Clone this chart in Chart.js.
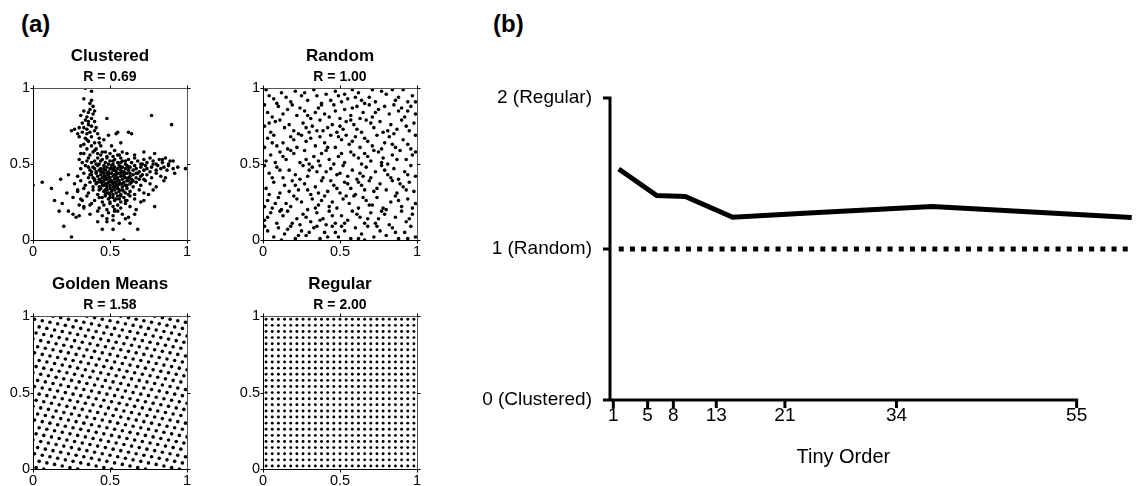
<!DOCTYPE html>
<html>
<head>
<meta charset="utf-8">
<script src="https://cdn.jsdelivr.net/npm/chart.js@4.4.1/dist/chart.umd.min.js"></script>
<style>
  html, body { margin: 0; padding: 0; background: #fff; }
  body { width: 1138px; height: 486px; position: relative; overflow: hidden;
         font-family: "Liberation Sans", Arial, Helvetica, sans-serif; }
  .box { position: absolute; }
  .panel { position: absolute; font-weight: bold; font-size: 24px; line-height: 24px; color: #000; }
</style>
</head>
<body>
<div class="panel" style="left:21px;top:12px">(a)</div>
<div class="panel" style="left:493px;top:12px">(b)</div>
<div class="box" style="left:0;top:40px"><canvas id="clustered" width="200" height="224"></canvas></div>
<div class="box" style="left:230px;top:40px"><canvas id="random" width="200" height="224"></canvas></div>
<div class="box" style="left:0;top:268px"><canvas id="golden" width="200" height="225"></canvas></div>
<div class="box" style="left:230px;top:268px"><canvas id="regular" width="200" height="225"></canvas></div>
<div class="box" style="left:440px;top:0"><canvas id="tiny" width="698" height="486"></canvas></div>
<script>
Chart.defaults.font.family = '"Liberation Sans", Arial, Helvetica, sans-serif';
Chart.defaults.color = '#000';

// ---- panel (a): point sets, flat x,y pairs in hundredths of the unit square
const clusteredPts = [
  // upper arm
  34,100, 38,98, 33,93, 38,92, 33,85, 37,86, 36,84, 39,83, 31,82, 35,81, 38,80, 34,79, 36,78, 40,78,
  32,77, 36,76, 30,74, 33,74, 35,73, 38,75, 41,74, 27,73, 29,70, 32,71, 35,70, 37,71, 40,72, 42,70,
  30,68, 34,67, 38,68, 43,67, 36,65, 40,64, 33,63, 38,62, 41,60, 44,62, 35,60, 39,58, 31,57, 42,57,
  37,56, 45,58, 48,80, 25,72, 49,69, 54,70, 55,71, 62,71, 64,70, 57,64, 46,66, 51,62, 39,88, 37,90,
  40,85, 35,66, 31,62, 43,64,
  // outliers
  0,36, 6,38, 12,34, 14,26, 19,24, 18,40, 23,43, 17,19, 23,19, 26,17, 20,9, 25,2, 30,16, 45,7,
  52,7, 59,0, 68,7, 77,82, 90,76, 99,47, 92,44, 85,39, 78,33, 79,22, 26,28, 28,15, 33,21, 29,33,
  22,31, 66,17, 72,26, 75,30, 88,50, 84,53, 91,52, 63,11, 48,12, 32,26, 30,23, 37,23, 48,14, 53,19,
  // main body and right arm
  33,57, 40,59, 44,56, 47,58, 50,57, 53,59, 56,56, 58,58, 61,57, 66,56, 72,58, 79,57, 48,55, 52,55,
  30,53, 32,51, 36,54, 40,52, 43,50, 45,53, 47,51, 48,54, 50,52, 52,50, 53,53, 55,51, 57,54, 58,52,
  60,50, 62,53, 64,51, 66,54, 68,52, 70,50, 72,53, 74,51, 76,54, 78,52, 80,50, 82,53, 84,51, 86,54,
  89,52, 42,54, 38,51, 35,52,
  31,47, 34,49, 37,46, 39,48, 41,45, 42,49, 44,47, 45,45, 46,49, 47,46, 48,48, 49,45, 50,47, 51,49,
  52,46, 53,48, 54,45, 55,47, 56,49, 57,46, 58,48, 59,45, 60,47, 61,49, 62,46, 63,48, 65,46, 66,49,
  67,47, 69,45, 70,48, 71,50, 72,46, 73,49, 74,47, 76,45, 77,48, 78,50, 80,46, 81,49, 83,47, 85,48,
  87,46, 88,49, 91,47, 94,48,
  29,42, 33,44, 36,41, 38,43, 40,40, 41,44, 42,42, 43,40, 44,43, 45,41, 46,44, 47,42, 48,40, 49,43,
  50,41, 51,44, 52,42, 53,40, 54,43, 55,41, 56,44, 57,42, 58,40, 59,43, 60,41, 61,44, 63,42, 64,40,
  65,43, 67,41, 68,44, 70,42, 72,40, 74,43, 77,41, 80,44, 83,42, 86,41,
  27,37, 31,39, 34,36, 37,38, 39,35, 40,39, 41,37, 43,35, 44,38, 45,36, 46,39, 47,37, 48,35, 49,38,
  50,36, 51,39, 52,37, 53,35, 54,38, 55,36, 56,39, 57,37, 58,35, 59,38, 60,36, 62,39, 63,37, 65,35,
  67,38, 70,36, 73,39, 76,37, 80,35,
  29,32, 33,34, 36,31, 39,33, 42,30, 44,34, 46,32, 47,30, 48,33, 49,31, 50,34, 51,32, 52,30, 53,33,
  54,31, 55,34, 56,32, 57,30, 58,33, 60,31, 61,34, 63,32, 66,30, 69,33, 72,31,
  31,27, 35,29, 40,26, 43,28, 45,25, 47,29, 49,27, 50,25, 52,28, 53,26, 55,29, 56,27, 57,25, 59,28,
  61,26, 63,29, 66,27, 70,25,
  33,22, 38,24, 43,21, 46,23, 48,20, 50,24, 52,22, 53,20, 55,23, 57,21, 60,24, 63,22, 67,20,
  37,17, 42,19, 45,16, 49,18, 52,16, 55,19, 58,17, 62,15, 42,12, 52,13, 56,11, 60,14,
  // dense core
  44,45, 46,42, 48,37, 50,44, 51,38, 53,46, 54,41, 55,39, 57,44, 58,37, 59,42, 61,39, 49,41, 52,35,
  56,33, 47,40, 45,38, 43,46, 53,43, 57,48, 60,44, 62,41, 50,39, 48,44, 54,36, 51,47,
  36,48, 38,45, 40,47, 42,38, 39,41, 37,43, 41,50, 44,52, 46,36, 43,33, 45,28, 48,31, 50,28, 51,33,
  53,38, 55,44, 56,37, 58,45, 59,32, 61,36, 63,44, 64,38, 62,48, 60,52, 57,51, 55,56, 52,52, 49,50,
  46,47, 44,39, 47,33, 50,30, 54,27, 57,29, 60,26, 62,30, 65,39, 67,44, 69,40, 71,43
];

const randomPts = [
  7,93, 2,99, 18,91, 12,97, 25,95, 33,99, 29,92, 41,96, 38,90, 47,98, 55,93, 51,91, 62,97, 58,99, 69,94, 73,91,
  66,90, 80,96, 86,92, 91,99, 97,95, 4,95, 15,94, 21,98, 44,92, 77,98, 94,91, 60,94, 35,95, 84,99, 9,90, 49,95,
  27,97, 53,96, 71,99, 88,94, 99,91, 64,92,
  3,84, 10,88, 6,81, 16,86, 22,82, 19,89, 27,85, 31,80, 36,87, 40,83, 46,89, 43,81, 53,86, 57,82, 61,88, 65,84,
  71,81, 69,89, 75,86, 82,83, 79,88, 88,85, 92,81, 96,88, 99,83, 13,83, 34,84, 50,80, 85,89, 24,87, 63,80,
  1,89, 29,82, 47,85, 58,87, 73,84, 94,85, 38,89, 90,87,
  1,75, 8,78, 5,71, 14,74, 11,79, 20,72, 26,77, 23,70, 32,75, 37,79, 39,72, 45,76, 48,71, 54,78, 52,73, 59,76,
  64,71, 67,79, 72,74, 76,78, 78,71, 83,76, 87,73, 90,79, 95,72, 98,77, 17,76, 42,74, 61,73, 30,71, 85,70,
  4,77, 28,74, 35,72, 50,75, 57,79, 81,72, 93,75, 70,77,
  3,67, 9,62, 7,69, 13,64, 18,68, 22,61, 28,65, 25,69, 34,62, 31,67, 40,64, 44,69, 47,61, 51,66, 56,63, 60,68,
  63,61, 68,65, 74,69, 71,62, 79,64, 82,68, 86,61, 91,66, 94,63, 99,69, 16,60, 37,68, 54,69, 77,60, 1,61,
  6,64, 20,66, 42,61, 49,68, 58,65, 66,67, 84,63, 96,60,
  5,56, 2,52, 11,58, 15,53, 20,57, 24,51, 27,59, 33,55, 30,50, 38,57, 43,53, 41,59, 49,55, 53,51, 57,58, 62,54,
  66,57, 64,50, 70,52, 75,58, 78,54, 84,56, 81,50, 89,59, 93,53, 97,56, 8,51, 46,50, 72,59, 36,52, 59,56,
  13,55, 18,59, 28,53, 51,57, 68,55, 77,51, 87,53, 99,58,
  4,44, 9,48, 13,41, 17,46, 21,43, 26,49, 29,42, 35,45, 32,48, 39,41, 44,47, 48,43, 52,49, 55,42, 58,46, 63,44,
  67,48, 70,41, 73,45, 77,49, 81,43, 85,47, 88,40, 92,45, 96,49, 99,42, 1,49, 24,40, 61,40, 41,45, 83,41,
  6,41, 11,46, 30,46, 37,49, 50,44, 65,42, 79,46, 94,43,
  2,34, 7,38, 11,31, 14,36, 19,39, 23,33, 27,37, 31,30, 34,35, 38,39, 42,32, 46,36, 50,31, 53,38, 57,34, 60,30,
  64,36, 69,39, 72,32, 76,37, 80,33, 84,39, 87,31, 91,35, 95,38, 98,32, 17,32, 44,39, 66,33, 89,37,
  4,30, 21,36, 29,33, 36,31, 48,34, 55,37, 74,34, 93,33, 62,38,
  3,26, 6,21, 10,28, 15,24, 20,29, 18,22, 25,25, 29,20, 32,27, 36,23, 40,29, 45,25, 48,21, 52,27, 56,24, 59,29,
  62,21, 67,26, 71,23, 74,28, 78,21, 83,25, 86,29, 90,22, 94,27, 99,24, 12,20, 38,26, 65,28, 80,20,
  1,22, 8,24, 22,27, 34,21, 43,22, 54,29, 69,23, 88,26, 97,21,
  1,13, 5,18, 9,11, 13,16, 16,19, 22,14, 26,17, 24,10, 31,12, 35,18, 39,14, 43,19, 47,11, 51,16, 55,13, 58,19,
  63,15, 66,11, 70,18, 75,14, 79,17, 82,10, 86,15, 90,19, 93,12, 97,17, 19,11, 41,10, 61,17, 73,11,
  3,15, 11,19, 28,15, 37,13, 45,16, 53,11, 68,14, 77,19, 95,14,
  3,6, 7,2, 10,8, 14,4, 18,9, 21,1, 25,6, 28,3, 33,8, 37,1, 40,5, 45,9, 49,2, 53,6, 57,1, 60,8,
  64,4, 68,9, 72,2, 76,6, 80,3, 84,8, 88,1, 92,5, 96,9, 99,2, 12,0, 30,5, 47,5, 66,0,
  1,9, 16,7, 23,3, 35,9, 42,2, 51,9, 62,1, 74,9, 86,5, 94,1
];

const goldenPts = [
  2,1, 7,0,
  4,5, 9,4, 14,3, 19,2, 24,1, 29,0,
  1,10, 6,9, 11,8, 16,7, 21,6, 26,5, 31,4, 36,3, 41,2, 46,1, 51,0,
  3,14, 8,13, 13,12, 18,11, 23,10, 28,9, 33,8, 38,7, 43,6, 48,5, 53,4, 58,3, 63,2, 68,1, 73,0,
  0,19, 5,18, 10,17, 15,16, 20,15, 25,14, 30,13, 35,12, 40,11, 45,10, 50,9, 55,8, 60,7, 65,6, 70,5, 75,4, 80,3, 85,2, 90,1, 95,0,
  2,23, 7,22, 12,21, 17,20, 22,19, 27,18, 32,17, 37,16, 42,15, 47,14, 52,13, 57,12, 62,11, 67,10, 72,9, 77,8, 82,7, 87,6, 92,5, 97,4,
  4,27, 9,26, 14,25, 19,24, 24,23, 29,22, 34,21, 39,20, 44,19, 49,18, 54,17, 59,16, 64,15, 69,14, 74,13, 79,12, 84,11, 89,10, 94,9, 99,8,
  1,32, 6,31, 11,30, 16,29, 21,28, 26,27, 31,26, 36,25, 41,24, 46,23, 51,22, 56,21, 61,20, 66,19, 71,18, 76,17, 81,16, 86,15, 91,14, 96,13,
  3,36, 8,35, 13,34, 18,33, 23,32, 28,31, 33,30, 38,29, 43,28, 48,27, 53,26, 58,25, 63,24, 68,23, 73,22, 78,21, 83,20, 88,19, 93,18, 98,17,
  0,41, 5,40, 10,39, 15,38, 20,37, 25,36, 30,35, 35,34, 40,33, 45,32, 50,31, 55,30, 60,29, 65,28, 70,27, 75,26, 80,25, 85,24, 90,23, 95,22, 100,21,
  2,45, 7,44, 12,43, 17,42, 22,41, 27,40, 32,39, 37,38, 42,37, 47,36, 52,35, 57,34, 62,33, 67,32, 72,31, 77,30, 82,29, 87,28, 92,27, 97,26,
  4,49, 9,48, 14,47, 19,46, 24,45, 29,44, 34,43, 39,42, 44,41, 49,40, 54,39, 59,38, 64,37, 69,36, 74,35, 79,34, 84,33, 89,32, 94,31, 99,30,
  1,54, 6,53, 11,52, 16,51, 21,50, 26,49, 31,48, 36,47, 41,46, 46,45, 51,44, 56,43, 61,42, 66,41, 71,40, 76,39, 81,38, 86,37, 91,36, 96,35,
  3,58, 8,57, 13,56, 18,55, 23,54, 28,53, 33,52, 38,51, 43,50, 48,49, 53,48, 58,47, 63,46, 68,45, 73,44, 78,43, 83,42, 88,41, 93,40, 98,39,
  0,63, 5,62, 10,61, 15,60, 20,59, 25,58, 30,57, 35,56, 40,55, 45,54, 50,53, 55,52, 60,51, 65,50, 70,49, 75,48, 80,47, 85,46, 90,45, 95,44, 100,43,
  2,67, 7,66, 12,65, 17,64, 22,63, 27,62, 32,61, 37,60, 42,59, 47,58, 52,57, 57,56, 62,55, 67,54, 72,53, 77,52, 82,51, 87,50, 92,49, 97,48,
  4,71, 9,70, 14,69, 19,68, 24,67, 29,66, 34,65, 39,64, 44,63, 49,62, 54,61, 59,60, 64,59, 69,58, 74,57, 79,56, 84,55, 89,54, 94,53, 99,52,
  1,76, 6,75, 11,74, 16,73, 21,72, 26,71, 31,70, 36,69, 41,68, 46,67, 51,66, 56,65, 61,64, 66,63, 71,62, 76,61, 81,60, 86,59, 91,58, 96,57,
  3,80, 8,79, 13,78, 18,77, 23,76, 28,75, 33,74, 38,73, 43,72, 48,71, 53,70, 58,69, 63,68, 68,67, 73,66, 78,65, 83,64, 88,63, 93,62, 98,61,
  0,85, 5,84, 10,83, 15,82, 20,81, 25,80, 30,79, 35,78, 40,77, 45,76, 50,75, 55,74, 60,73, 65,72, 70,71, 75,70, 80,69, 85,68, 90,67, 95,66, 100,65,
  2,89, 7,88, 12,87, 17,86, 22,85, 27,84, 32,83, 37,82, 42,81, 47,80, 52,79, 57,78, 62,77, 67,76, 72,75, 77,74, 82,73, 87,72, 92,71, 97,70,
  4,93, 9,92, 14,91, 19,90, 24,89, 29,88, 34,87, 39,86, 44,85, 49,84, 54,83, 59,82, 64,81, 69,80, 74,79, 79,78, 84,77, 89,76, 94,75, 99,74,
  1,98, 6,97, 11,96, 16,95, 21,94, 26,93, 31,92, 36,91, 41,90, 46,89, 51,88, 56,87, 61,86, 66,85, 71,84, 76,83, 81,82, 86,81, 91,80, 96,79,
  13,100, 18,99, 23,98, 28,97, 33,96, 38,95, 43,94, 48,93, 53,92, 58,91, 63,90, 68,89, 73,88, 78,87, 83,86, 88,85, 93,84, 98,83,
  35,100, 40,99, 45,98, 50,97, 55,96, 60,95, 65,94, 70,93, 75,92, 80,91, 85,90, 90,89, 95,88, 100,87,
  57,100, 62,99, 67,98, 72,97, 77,96, 82,95, 87,94, 92,93, 97,92,
  79,100, 84,99, 89,98, 94,97, 99,96
];

// regular lattice: row and column positions
const regularGrid = [0.02, 0.06, 0.10, 0.14, 0.18, 0.22, 0.26, 0.30, 0.34, 0.38, 0.42, 0.46, 0.50,
                     0.54, 0.58, 0.62, 0.66, 0.70, 0.74, 0.78, 0.82, 0.86, 0.90, 0.94, 0.98];
const squareTicks = [0, 0.5, 1];
const squareTickLabels = ['0', '0.5', '1'];

// ---- panel (b)
const tinyOrder = [1, 5, 8, 13, 21, 34, 55];
const rValues = [1.53, 1.354, 1.348, 1.21, 1.238, 1.281, 1.208];
const randomLevelX = [1, 55];
const randomLevel = [1, 1];
const rTicks = [0, 1, 2];
const rTickLabels = ['0 (Clustered)', '1 (Random)', '2 (Regular)'];

function toPoints(flat) {
  const out = [];
  for (let i = 0; i < flat.length; i += 2) out.push({ x: flat[i] / 100, y: flat[i + 1] / 100 });
  return out;
}

const squareFrame = {
  id: 'squareFrame',
  afterDraw(chart) {
    const { ctx, chartArea: a, scales: { x, y } } = chart;
    const L = Math.round(a.left) + 0.5, R = Math.round(a.right) + 0.5;
    const T = Math.round(a.top) + 0.5, B = Math.round(a.bottom) + 0.5;
    ctx.save();
    ctx.lineWidth = 1;
    ctx.strokeStyle = '#555';
    ctx.beginPath();
    ctx.moveTo(L, T); ctx.lineTo(R, T); ctx.lineTo(R, B);
    ctx.stroke();
    ctx.strokeStyle = '#000';
    ctx.beginPath();
    ctx.moveTo(L, T); ctx.lineTo(L, B); ctx.lineTo(R, B);
    squareTicks.forEach(v => {
      const px = Math.round(x.getPixelForValue(v)) + 0.5;
      const py = Math.round(y.getPixelForValue(v)) + 0.5;
      ctx.moveTo(px, B); ctx.lineTo(px, B + 3);
      ctx.moveTo(px, T); ctx.lineTo(px, T - 3);
      ctx.moveTo(L, py); ctx.lineTo(L - 3, py);
      ctx.moveTo(R, py); ctx.lineTo(R + 3, py);
    });
    ctx.stroke();
    ctx.restore();
  }
};

function squarePlot(id, title, rLabel, points, radius) {
  const axis = (fit) => ({
    type: 'linear', min: 0, max: 1,
    afterBuildTicks: s => { s.ticks = squareTicks.map(v => ({ value: v })); },
    ticks: { font: { size: 14.5 }, padding: 3, autoSkip: false, maxRotation: 0, color: '#000',
             callback: (v, i) => squareTickLabels[i] },
    grid: { display: false, drawTicks: false },
    border: { display: false },
    afterFit: fit
  });
  return new Chart(document.getElementById(id), {
    type: 'scatter',
    data: { datasets: [{ data: points, pointRadius: radius, pointBackgroundColor: '#000', pointBorderWidth: 0 }] },
    options: {
      responsive: false, animation: false, events: [],
      layout: { padding: { left: 0, right: 13, top: 0, bottom: 0 } },
      plugins: {
        legend: { display: false },
        tooltip: { enabled: false },
        title: { display: true, text: title, fullSize: false, color: '#000',
                 font: { size: 17, weight: 'bold' }, padding: { top: 6, bottom: 0 } },
        subtitle: { display: true, text: rLabel, fullSize: false, color: '#000',
                    font: { size: 14, weight: 'bold' }, padding: { top: 2, bottom: 3 } }
      },
      scales: {
        x: axis(s => { s.height = 24; }),
        y: axis(s => { s.width = 33; })
      }
    },
    plugins: [squareFrame]
  });
}

squarePlot('clustered', 'Clustered', 'R = 0.69', toPoints(clusteredPts), 1.8);
squarePlot('random', 'Random', 'R = 1.00', toPoints(randomPts), 1.8);
squarePlot('golden', 'Golden Means', 'R = 1.58', toPoints(goldenPts), 1.8);
squarePlot('regular', 'Regular', 'R = 2.00',
  regularGrid.flatMap(gy => regularGrid.map(gx => ({ x: gx, y: gy }))), 1.45);

const tinyAxes = {
  id: 'tinyAxes',
  afterDraw(chart) {
    const { ctx, chartArea: a, scales: { x, y } } = chart;
    const xEnd = x.getPixelForValue(tinyOrder[tinyOrder.length - 1]);
    ctx.save();
    ctx.strokeStyle = '#000';
    ctx.lineWidth = 3;
    ctx.lineCap = 'butt';
    ctx.beginPath();
    ctx.moveTo(a.left, y.getPixelForValue(rTicks[rTicks.length - 1]) - 1.5);
    ctx.lineTo(a.left, a.bottom + 1.5);
    ctx.moveTo(a.left - 7, a.bottom);
    ctx.lineTo(xEnd + 1.5, a.bottom);
    rTicks.forEach(v => {
      const py = y.getPixelForValue(v);
      ctx.moveTo(a.left - 7, py); ctx.lineTo(a.left, py);
    });
    tinyOrder.forEach(v => {
      const px = x.getPixelForValue(v);
      ctx.moveTo(px, a.bottom); ctx.lineTo(px, a.bottom + 8);
    });
    ctx.stroke();
    ctx.fillStyle = '#000';
    ctx.font = '20px "Liberation Sans", Arial, sans-serif';
    ctx.textAlign = 'center';
    ctx.textBaseline = 'alphabetic';
    ctx.fillText('Tiny Order', (a.left + xEnd) / 2, a.bottom + 63);
    ctx.restore();
  }
};

new Chart(document.getElementById('tiny'), {
  type: 'scatter',
  data: {
    datasets: [
      {
        data: tinyOrder.map((v, i) => ({ x: v, y: rValues[i] })),
        xAxisID: 'xl', showLine: true, borderColor: '#000', borderWidth: 5,
        borderJoinStyle: 'miter', borderCapStyle: 'butt', pointRadius: 0, clip: false
      },
      {
        data: randomLevelX.map((v, i) => ({ x: v, y: randomLevel[i] })),
        xAxisID: 'xl', showLine: true, borderColor: '#000', borderWidth: 5,
        borderDash: [5, 6.2], borderCapStyle: 'butt', pointRadius: 0, clip: false
      }
    ]
  },
  options: {
    responsive: false, animation: false, events: [],
    layout: { padding: { left: 0, right: 6, top: 98, bottom: 0 } },
    plugins: { legend: { display: false }, tooltip: { enabled: false } },
    scales: {
      x: {
        type: 'linear', min: 0.615, max: 61.45,
        afterBuildTicks: s => { s.ticks = tinyOrder.map(v => ({ value: v })); },
        ticks: { font: { size: 19 }, padding: 4, autoSkip: false, maxRotation: 0, color: '#000' },
        grid: { display: false, drawTicks: false },
        border: { display: false },
        afterFit: s => { s.height = 86; }
      },
      xl: { type: 'linear', display: false, min: 0.08, max: 55.03 },
      y: {
        type: 'linear', min: 0, max: 2,
        afterBuildTicks: s => { s.ticks = rTicks.map(v => ({ value: v })); },
        ticks: { font: { size: 19 }, padding: 18, color: '#000', callback: (v, i) => rTickLabels[i] },
        grid: { display: false, drawTicks: false },
        border: { display: false },
        afterFit: s => { s.width = 170; }
      }
    }
  },
  plugins: [tinyAxes]
});
</script>
</body>
</html>
